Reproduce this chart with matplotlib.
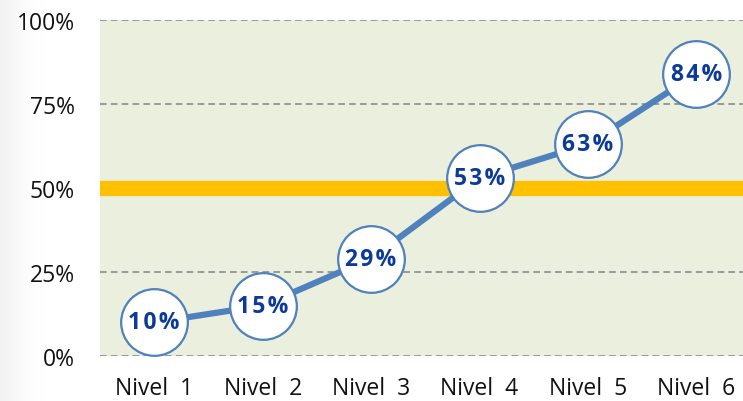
import numpy as np
import matplotlib
matplotlib.use("Agg")
import matplotlib.pyplot as plt

categories = ["Nivel  1", "Nivel  2", "Nivel  3", "Nivel  4", "Nivel  5", "Nivel  6"]
values = [10, 15, 29, 53, 63, 84]
y_ticks = [0, 25, 50, 75, 100]
y_tick_labels = ["0%", "25%", "50%", "75%", "100%"]
target = 50

plt.rcParams["font.family"] = ["Open Sans", "DejaVu Sans"]

fig = plt.figure(figsize=(7.43, 4.02), dpi=100)
fig.patch.set_facecolor("white")

# soft shadow along the left border
shade = fig.add_axes([0, 0, 0.06, 1], zorder=-5)
grad = (1.0 - 0.05 * np.linspace(1, 0, 64) ** 1.5)[None, :]
shade.imshow(np.dstack([grad, grad, grad]), aspect="auto", extent=[0, 1, 0, 1],
             vmin=0, vmax=1)
shade.axis("off")

ax = fig.add_axes([100 / 743, 1 - 357 / 402, 1 - 100 / 743, 336 / 402])
ax.set_facecolor("#EBEFDE")
ax.set_xlim(-0.5, 5.43)
ax.set_ylim(0, 100)

for y in y_ticks:
    if y != target:
        ax.axhline(y, color="#8C8C8C", lw=1.2, ls=(0, (4, 2.5)), zorder=1)
ax.axhline(target, color="#FFC000", lw=11, zorder=2)

x = np.arange(len(categories))
ax.plot(x, values, color="#4F81BD", lw=4.5, zorder=3, solid_capstyle="butt")
ax.plot(x, values, ls="none", marker="o", ms=48, mfc="white", mec="#4F81BD",
        mew=1.6, zorder=4, clip_on=False)
for xi, v in zip(x, values):
    label = "\u200a".join(f"{v}%")
    ax.text(xi, v, label, ha="center", va="center", fontsize=16.5,
            fontweight="bold", color="#0B3A99", zorder=5)

ax.set_xticks(x)
ax.set_xticklabels(categories, fontsize=16.5, color="#111111")
ax.set_yticks(y_ticks)
ax.set_yticklabels(y_tick_labels, fontsize=16.5, color="#111111")
ax.tick_params(length=0)
ax.tick_params(axis="y", pad=18)
ax.tick_params(axis="x", pad=14.5)
for s in ax.spines.values():
    s.set_visible(False)

fig.savefig("out.png", dpi=100)
